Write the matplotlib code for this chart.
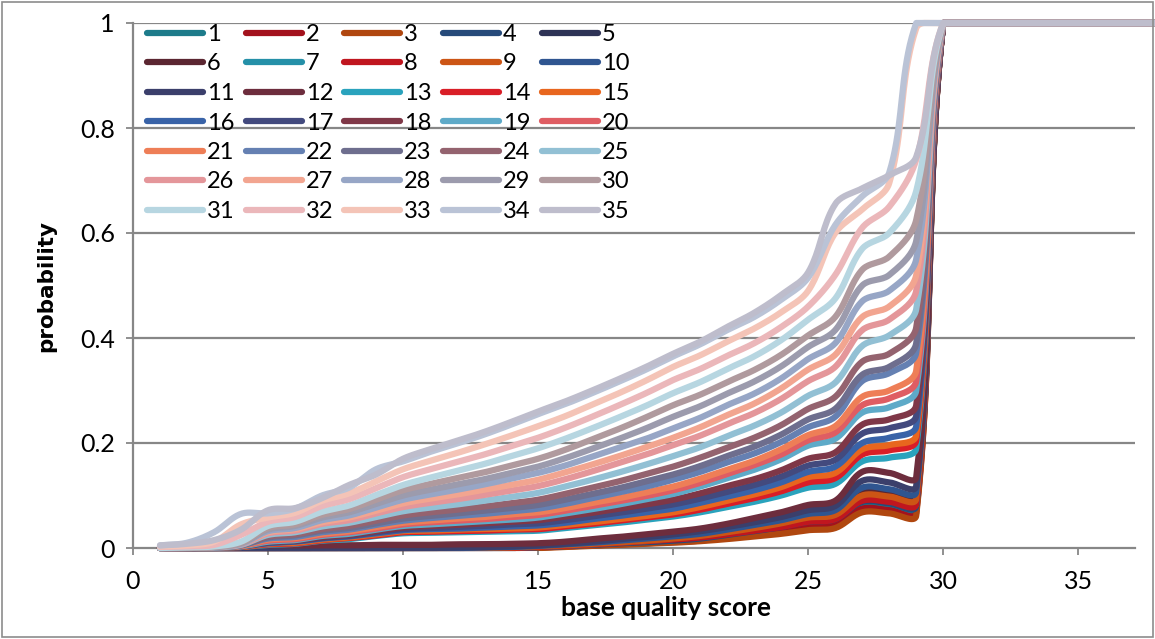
import numpy as np
import matplotlib.pyplot as plt
from matplotlib.patches import Rectangle

plt.rcParams['font.family'] = ['Lato', 'DejaVu Sans']

# base quality scores with per-read-position cumulative probabilities
quality_scores = [1, 2, 3, 4, 5, 6, 7, 8, 9, 10, 11, 12, 13, 14, 15,
                  16, 17, 18, 19, 20, 21, 22, 23, 24, 25, 26, 27, 28, 29]
# every position reaches 1 from score 30 upward
saturated_scores = [30, 31]
saturated_prob = [1.0, 1.0]
axis_end_score = 38

s01 = [0, 0, 0, 0, 0, 0, 0, 0, 0, 0, 0, 0, 0, 0, .001, .003, .005, .007, .009, .012, .016, .022, .029, .036, .045, .050, .080, .078, .072]
s02 = [0, 0, 0, 0, 0, 0, 0, 0, 0, 0, 0, 0, 0, 0, .001, .003, .005, .007, .009, .011, .014, .020, .026, .032, .040, .045, .075, .072, .067]
s03 = [0, 0, 0, 0, 0, 0, 0, 0, 0, 0, 0, 0, 0, 0, 0, .002, .004, .006, .008, .010, .013, .017, .022, .027, .034, .038, .068, .066, .062]
s04 = [0, 0, 0, 0, 0, 0, 0, 0, 0, 0, 0, 0, 0, 0, .002, .004, .006, .009, .011, .014, .018, .025, .032, .040, .050, .055, .088, .085, .080]
s05 = [0, 0, 0, 0, 0, 0, 0, 0, 0, 0, 0, 0, 0, 0, .002, .004, .007, .010, .013, .016, .021, .028, .036, .044, .055, .060, .095, .092, .087]
s06 = [0, 0, 0, .002, .002, .002, .002, .002, .002, .002, .002, .002, .002, .002, .004, .006, .010, .013, .016, .020, .025, .032, .040, .049, .060, .066, .105, .102, .098]
s07 = [0, 0, 0, 0, 0, 0, 0, 0, 0, 0, 0, 0, 0, 0, .002, .004, .007, .010, .013, .017, .021, .028, .035, .042, .052, .057, .092, .090, .085]
s08 = [0, 0, 0, 0, 0, 0, 0, 0, 0, 0, 0, 0, 0, 0, .002, .004, .007, .010, .013, .016, .020, .026, .033, .040, .050, .055, .090, .088, .084]
s09 = [0, 0, 0, 0, 0, 0, 0, 0, 0, 0, 0, 0, 0, .001, .003, .005, .008, .011, .014, .018, .023, .030, .038, .047, .058, .063, .100, .098, .094]
s10 = [0, 0, 0, 0, 0, 0, 0, 0, 0, 0, 0, 0, .001, .002, .004, .007, .010, .014, .018, .022, .027, .035, .044, .053, .065, .072, .115, .112, .107]
s11 = [0, 0, 0, 0, 0, 0, 0, 0, 0, 0, 0, .001, .002, .003, .005, .008, .012, .017, .021, .026, .032, .040, .049, .059, .072, .080, .128, .125, .118]
s12 = [0, 0, 0, .003, .005, .005, .005, .005, .006, .006, .006, .007, .007, .008, .009, .012, .017, .021, .026, .031, .037, .046, .057, .068, .082, .090, .145, .143, .135]
s13 = [0, 0, .001, .002, .006, .008, .014, .017, .023, .028, .029, .030, .031, .032, .033, .038, .043, .048, .054, .060, .068, .078, .088, .100, .115, .122, .165, .172, .190]
s14 = [0, 0, .001, .002, .007, .009, .015, .019, .024, .030, .031, .032, .033, .035, .036, .041, .046, .052, .058, .064, .073, .084, .095, .108, .125, .133, .178, .186, .205]
s15 = [0, 0, .001, .002, .008, .010, .016, .020, .026, .032, .033, .035, .036, .037, .039, .044, .049, .055, .061, .068, .078, .090, .102, .116, .135, .143, .188, .196, .215]
s16 = [0, 0, .001, .003, .009, .012, .018, .022, .028, .034, .036, .037, .039, .041, .043, .048, .055, .061, .068, .075, .086, .098, .110, .125, .145, .155, .200, .210, .232]
s17 = [0, 0, .001, .003, .010, .013, .019, .023, .030, .036, .038, .040, .042, .045, .047, .053, .060, .067, .075, .083, .094, .107, .120, .136, .157, .168, .218, .228, .252]
s18 = [0, 0, .001, .003, .011, .014, .021, .025, .032, .039, .042, .044, .047, .050, .053, .060, .067, .075, .083, .092, .104, .118, .131, .148, .170, .182, .235, .245, .272]
s19 = [0, 0, .001, .003, .012, .015, .023, .027, .035, .042, .045, .048, .051, .054, .058, .066, .074, .083, .093, .103, .117, .133, .149, .169, .195, .208, .258, .268, .300]
s20 = [0, 0, .001, .004, .014, .017, .025, .030, .037, .045, .049, .052, .055, .059, .063, .071, .080, .089, .099, .110, .124, .141, .158, .178, .205, .220, .272, .285, .318]
s21 = [0, 0, .001, .004, .016, .019, .027, .032, .040, .048, .052, .056, .059, .064, .068, .076, .086, .095, .106, .117, .132, .149, .166, .188, .215, .232, .288, .300, .338]
s22 = [0, 0, .001, .005, .018, .021, .030, .035, .044, .052, .057, .061, .065, .070, .075, .084, .095, .106, .117, .130, .145, .163, .180, .202, .230, .250, .318, .333, .372]
s23 = [0, 0, .001, .005, .020, .024, .033, .038, .047, .056, .061, .066, .071, .076, .082, .092, .103, .114, .127, .140, .156, .175, .193, .216, .245, .265, .330, .345, .390]
s24 = [0, 0, .001, .006, .022, .026, .036, .042, .052, .062, .068, .073, .079, .085, .092, .103, .115, .127, .141, .155, .172, .191, .210, .234, .265, .288, .355, .370, .420]
s25 = [0, 0, .001, .006, .025, .030, .041, .048, .059, .070, .077, .083, .090, .097, .105, .117, .130, .144, .159, .175, .192, .213, .233, .258, .290, .315, .385, .405, .455]
s26 = [0, 0, .002, .007, .028, .033, .046, .053, .066, .078, .086, .093, .101, .109, .118, .131, .146, .162, .178, .196, .214, .236, .257, .284, .318, .345, .415, .435, .490]
s27 = [0, 0, .002, .008, .030, .036, .049, .058, .071, .085, .094, .102, .111, .120, .130, .144, .159, .175, .192, .210, .230, .253, .275, .304, .340, .368, .440, .460, .520]
s28 = [0, 0, .002, .008, .032, .038, .053, .062, .077, .092, .102, .111, .121, .132, .143, .157, .174, .191, .208, .228, .248, .272, .294, .323, .360, .390, .470, .490, .550]
s29 = [0, 0, .002, .009, .035, .042, .058, .068, .084, .100, .111, .121, .131, .143, .155, .171, .189, .208, .228, .250, .270, .294, .317, .346, .383, .415, .500, .520, .585]
s30 = [0, 0, .002, .010, .038, .045, .063, .074, .092, .110, .122, .133, .144, .157, .170, .187, .207, .227, .249, .272, .292, .316, .339, .368, .405, .440, .530, .555, .625]
s31 = [0, .001, .003, .012, .042, .050, .069, .081, .101, .120, .134, .147, .160, .175, .190, .208, .228, .249, .271, .295, .316, .341, .365, .396, .435, .475, .570, .600, .680]
s32 = [.002, .003, .006, .025, .050, .059, .080, .093, .114, .135, .150, .164, .178, .194, .210, .229, .250, .272, .295, .320, .341, .366, .390, .421, .460, .520, .610, .650, .740]
s33 = [.003, .005, .012, .045, .058, .067, .090, .104, .127, .150, .166, .181, .197, .214, .232, .251, .273, .295, .319, .345, .367, .393, .418, .449, .490, .600, .645, .695, .990]
s34 = [.005, .010, .030, .065, .066, .075, .100, .115, .150, .165, .183, .199, .216, .235, .255, .274, .295, .317, .340, .365, .388, .415, .440, .473, .515, .615, .670, .715, 1.0]
s35 = [.005, .008, .015, .035, .072, .076, .095, .120, .140, .170, .188, .204, .221, .240, .260, .279, .300, .322, .345, .370, .393, .421, .448, .482, .525, .655, .685, .710, .745]

series_labels = [str(i) for i in range(1, 36)]
series_colors = [
    '#1d7b8a', '#a3121d', '#b0470f', '#264a7a', '#2e3356',
    '#5b2631', '#2590a8', '#c0161f', '#cc5515', '#2f5590',
    '#3b3f6b', '#6d2d3d', '#2aa3bd', '#d91e27', '#e8661e',
    '#3963a8', '#434a7e', '#7f3747', '#5eaac8', '#df5d63',
    '#ee7e57', '#6580b2', '#6e6e8e', '#94636f', '#92c0d4',
    '#e4969a', '#f2a590', '#97a6c6', '#9c9bad', '#b09a9e',
    '#b7d6e1', '#ebb7ba', '#f4c4b7', '#bac3d6', '#bebdcc',
]

all_series = [s01, s02, s03, s04, s05, s06, s07, s08, s09, s10,
              s11, s12, s13, s14, s15, s16, s17, s18, s19, s20,
              s21, s22, s23, s24, s25, s26, s27, s28, s29, s30,
              s31, s32, s33, s34, s35]

W, H = 1155, 639
AX_LEFT, AX_RIGHT, AX_TOP, AX_BOTTOM = 133, 1135, 23, 548
X_MAX = 37.1
PX_X = (AX_RIGHT - AX_LEFT) / X_MAX
PX_Y = AX_BOTTOM - AX_TOP


def _unit(v):
    n = np.hypot(v[0], v[1])
    return v / n if n > 0 else v * 0


def smooth_line(xs, ys, n=20):
    # bezier smoothing through every point, handles scaled by segment length
    # in screen space so short flat steps next to the big jump don't swing
    pts = np.column_stack([np.asarray(xs, float) * PX_X, np.asarray(ys, float) * PX_Y])
    padded = np.vstack([pts[0], pts, pts[-1]])
    t = np.linspace(0, 1, n + 1)[1:, None]
    out = [pts[:1]]
    for i in range(len(pts) - 1):
        p0, p1, p2, p3 = padded[i], padded[i + 1], padded[i + 2], padded[i + 3]
        seg_len = np.hypot(*(p2 - p1)) / 3
        c1 = p1 + _unit(p2 - p0) * seg_len
        c2 = p2 - _unit(p3 - p1) * seg_len
        seg = ((1 - t) ** 3 * p1 + 3 * (1 - t) ** 2 * t * c1
               + 3 * (1 - t) * t ** 2 * c2 + t ** 3 * p2)
        out.append(seg)
    curve = np.vstack(out)
    return curve[:, 0] / PX_X, np.clip(curve[:, 1] / PX_Y, 0, 1)


fig = plt.figure(figsize=(W / 100, H / 100), dpi=100)
ax = fig.add_axes([AX_LEFT / W, (H - AX_BOTTOM) / H,
                   (AX_RIGHT - AX_LEFT) / W, (AX_BOTTOM - AX_TOP) / H])

grid_col = '#878787'
lines = []
for vals, lab, col in zip(all_series, series_labels, series_colors):
    sx, sy = smooth_line(quality_scores + saturated_scores, vals + saturated_prob)
    sx = np.append(sx, axis_end_score)
    sy = np.append(sy, 1.0)
    ln, = ax.plot(sx, sy, color=col, lw=4.5, label=lab, clip_on=False,
                  solid_capstyle='round', solid_joinstyle='round', zorder=3)
    lines.append(ln)

ax.set_xlim(0, X_MAX)
ax.set_ylim(0, 1)
ax.set_xticks([0, 5, 10, 15, 20, 25, 30, 35])
ax.set_yticks([0, 0.2, 0.4, 0.6, 0.8, 1.0])
ax.set_yticklabels(['0', '0.2', '0.4', '0.6', '0.8', '1'])
ax.tick_params(axis='both', labelsize=18, colors=grid_col, labelcolor='black',
               direction='out', length=5, width=1.3)
ax.tick_params(axis='y', pad=8)
ax.tick_params(axis='x', pad=11)

for y in [0.2, 0.4, 0.6, 0.8, 1.0]:
    ax.axhline(y, color=grid_col, lw=1.6, zorder=1)
for side in ['top', 'right']:
    ax.spines[side].set_visible(False)
for side in ['left', 'bottom']:
    ax.spines[side].set_color(grid_col)
    ax.spines[side].set_linewidth(1.6)

fig.text(666 / W, 1 - 608 / H, 'base quality score', ha='center', va='center',
         fontsize=19, fontweight='bold')
fig.text(46 / W, 1 - 286 / H, 'probability', ha='center', va='center',
         rotation=90, fontsize=15.5, fontweight='bold', family='DejaVu Sans')

# legend is filled row by row: 1..5 on the first row
order = [r * 5 + c for c in range(5) for r in range(7)]
ax.legend([lines[i] for i in order], [series_labels[i] for i in order],
          ncol=5, loc='upper left', bbox_to_anchor=(147 / W, 1 - 24 / H),
          bbox_transform=fig.transFigure, frameon=False, fontsize=17,
          handlelength=2.37, handletextpad=0.17, columnspacing=0.47,
          labelspacing=0.36, borderpad=0, borderaxespad=0)

fig.add_artist(Rectangle((2 / W, 2 / H), 1151 / W, 635 / H, transform=fig.transFigure,
                         fill=False, edgecolor='#8c8c8c', lw=1.2))

fig.savefig('out.png', dpi=100)
